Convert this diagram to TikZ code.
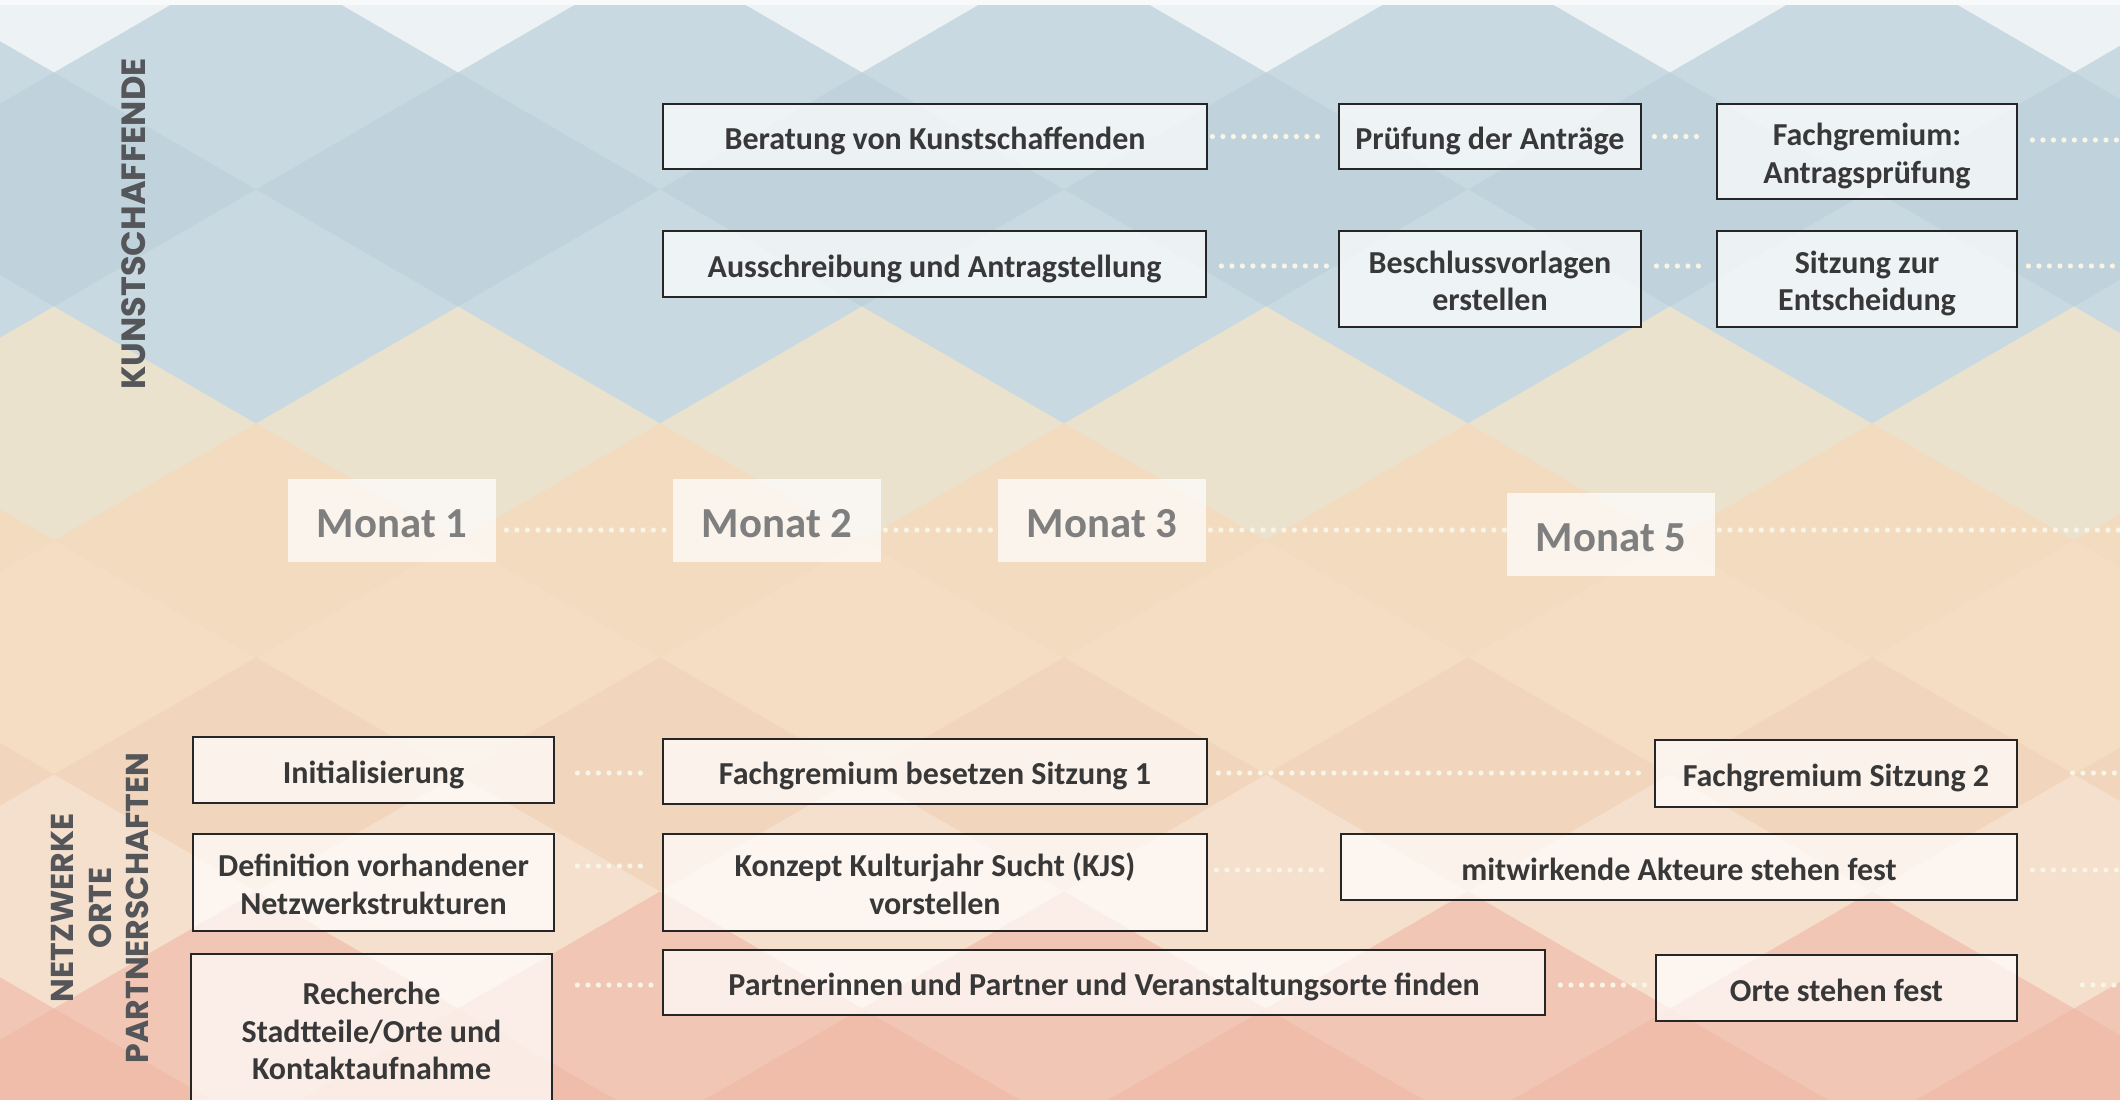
\documentclass[tikz,border=0pt]{standalone}
\usepackage{fontspec}
\setmainfont{Carlito}
\newfontfamily\labfont{Poppins}
\definecolor{c0}{HTML}{EDF2F5}
\definecolor{c1}{HTML}{C9D9E1}
\definecolor{c2}{HTML}{C0D3DC}
\definecolor{c3}{HTML}{C9D9E1}
\definecolor{c4}{HTML}{EAE2CD}
\definecolor{c5}{HTML}{F3DBC0}
\definecolor{c6}{HTML}{F4DDC2}
\definecolor{c7}{HTML}{F1D5BD}
\definecolor{c8}{HTML}{F5E0CE}
\definecolor{c9}{HTML}{F2C6B4}
\definecolor{c10}{HTML}{F0BDAA}
\definecolor{topstrip}{HTML}{F7F9FA}
\definecolor{boxline}{HTML}{262626}
\definecolor{boxtxt}{HTML}{383838}
\definecolor{montxt}{HTML}{7F7F7F}
\definecolor{labtxt}{HTML}{55565A}
\definecolor{dotc}{HTML}{F8F4E6}
\newcommand\bt{\rule{0pt}{16.6pt}}
\newcommand\bb{\rule[-3.5pt]{0pt}{3.5pt}}
\newcommand\mt{\rule{0pt}{17pt}}
\tikzset{
  tbox/.style={draw=boxline, line width=1.4pt, fill=white, fill opacity=0.7, text opacity=1,
    text=boxtxt, align=center, inner sep=0pt,
    font=\fontsize{16}{18.75}\selectfont\bfseries},
  mbox/.style={fill=white, fill opacity=0.72, text opacity=1, text=montxt, inner sep=0pt,
    minimum width=104pt, minimum height=41.5pt,
    font=\fontsize{21.4}{25}\selectfont\bfseries},
  vlab/.style={text=labtxt, inner sep=0pt, rotate=90, align=center},
  dotline/.style={draw=dotc, line width=2.6pt, line cap=round, dash pattern=on 0pt off 5.25pt}
}
\begin{document}
\begin{tikzpicture}[x=0.5pt,y=-0.5pt]
\useasboundingbox (0,0) rectangle (2120,1099);
\fill[topstrip] (0,0) rectangle (2120,1099);
% argyle background
\begin{scope}
\clip (0,5) rectangle (2120,1099);
\foreach \b/\col in {-1/c0,0/c1,1/c2,2/c3,3/c4,4/c5,5/c6,6/c7,7/c8,8/c9,9/c10}{
  \foreach \a in {-2,...,11}{
    \pgfmathtruncatemacro\pp{mod(\a+\b+40,2)}
    \ifnum\pp=1
      \fill[\col, draw=\col, line width=0.4pt] ({54+202*\a},{73+117*\b-117}) -- ++(202,117) -- ++(-202,117) -- ++(-202,-117) -- cycle;
    \fi
  }
}
\end{scope}

% side labels
\node[vlab, font=\labfont\fontsize{16.8}{18}\selectfont\bfseries] (kun) at (134,224) {KUNSTSCHAFFENDE};
\node[vlab, font=\labfont\fontsize{15.8}{18.75}\selectfont\bfseries] (netz) at (100.5,908) {NETZWERKE\\ORTE\\PARTNERSCHAFTEN};

% top boxes
\node[tbox, minimum width=272pt, minimum height=32.5pt] (ber) at (935,136.5) {\bt Beratung von Kunstschaffenden\bb};
\node[tbox, minimum width=271.5pt, minimum height=33pt] (aus) at (934.5,264) {\bt Ausschreibung und Antragstellung\bb};
\node[tbox, minimum width=151pt, minimum height=32.5pt] (pruef) at (1490,136.5) {\bt Prüfung der Anträge\bb};
\node[tbox, minimum width=150pt, minimum height=47.5pt] (fachA) at (1867,151.5) {\bt Fachgremium:\\Antragsprüfung\bb};
\node[tbox, minimum width=151pt, minimum height=48pt] (besch) at (1490,279) {\bt Beschlussvorlagen\\erstellen\bb};
\node[tbox, minimum width=150pt, minimum height=48pt] (sitz) at (1867,279) {\bt Sitzung zur\\Entscheidung\bb};

% month boxes
\node[mbox] (m1) at (392,520.5) {\mt Monat 1};
\node[mbox] (m2) at (777,520.5) {\mt Monat 2};
\node[mbox] (m3) at (1102,520.5) {\mt Monat 3};
\node[mbox] (m5) at (1611,534.5) {\mt Monat 5};

% bottom boxes
\node[tbox, minimum width=180.5pt, minimum height=33pt] (ini) at (373.5,770) {\bt Initialisierung\bb};
\node[tbox, minimum width=180.5pt, minimum height=48.5pt] (defi) at (373.5,882.5) {\bt Definition vorhandener\\Netzwerkstrukturen\bb};
\node[tbox, minimum width=180.5pt, minimum height=75pt] (rech) at (371.5,1029) {\bt Recherche\\Stadtteile/Orte und\\Kontaktaufnahme\bb};
\node[tbox, minimum width=272pt, minimum height=32.5pt] (fb1) at (935,771.5) {\bt Fachgremium besetzen Sitzung 1\bb};
\node[tbox, minimum width=272pt, minimum height=48.5pt] (konz) at (935,882.5) {\bt Konzept Kulturjahr Sucht (KJS)\\vorstellen\bb};
\node[tbox, minimum width=441pt, minimum height=32.5pt] (partn) at (1104,982.5) {\bt Partnerinnen und Partner und Veranstaltungsorte finden\bb};
\node[tbox, minimum width=181pt, minimum height=33.5pt] (fs2) at (1836,773.5) {\bt Fachgremium Sitzung 2\bb};
\node[tbox, minimum width=338pt, minimum height=33pt] (mitw) at (1679,867) {\bt mitwirkende Akteure stehen fest\bb};
\node[tbox, minimum width=180.5pt, minimum height=33pt] (orte) at (1836.5,988) {\bt Orte stehen fest\bb};

% free ends at the right edge
\coordinate (e1) at (2122,140);
\coordinate (e2) at (2122,266);
\coordinate (e3) at (2122,530);
\coordinate (e4) at (2122,773);
\coordinate (e5) at (2122,870);
\coordinate (e6) at (2122,985);
\coordinate (ym) at (0,530);

% connectors (dotted)
\draw[dotline, shorten <=2pt, shorten >=6pt] (ber.east) -- (pruef.west);
\draw[dotline, shorten <=6pt, shorten >=5pt] (pruef.east) -- (pruef.east -| fachA.west);
\draw[dotline, shorten <=7pt] (fachA.east |- e1) -- (e1);
\draw[dotline, shorten <=7pt, shorten >=5pt] (aus.east |- e2) -- (aus.east |- e2 -| besch.west);
\draw[dotline, shorten <=7pt, shorten >=6pt] (besch.east |- e2) -- (besch.east |- e2 -| sitz.west);
\draw[dotline, shorten <=5pt] (sitz.east |- e2) -- (e2);
\draw[dotline, shorten <=5pt, shorten >=2pt] (m1.east |- ym) -- (m1.east |- ym -| m2.west);
\draw[dotline, shorten <=2pt, shorten >=2pt] (m2.east |- ym) -- (m2.east |- ym -| m3.west);
\draw[dotline, shorten <=2pt, shorten >=1pt] (m3.east |- ym) -- (m3.east |- ym -| m5.west);
\draw[dotline, shorten <=2pt] (m5.east |- ym) -- (e3);
\draw[dotline, shorten <=11pt, shorten >=7pt] (ini.east |- e4) -- (ini.east |- e4 -| fb1.west);
\draw[dotline, shorten <=5pt, shorten >=5pt] (fb1.east |- e4) -- (fb1.east |- e4 -| fs2.west);
\draw[dotline, shorten <=27pt] (fs2.east |- e4) -- (e4);
\draw[dotline, shorten <=11pt, shorten >=7pt] (defi.east |- 0,866) -- (defi.east |- 0,866 -| konz.west);
\draw[dotline, shorten <=4pt, shorten >=7pt] (konz.east |- e5) -- (konz.east |- e5 -| mitw.west);
\draw[dotline, shorten <=7pt] (mitw.east |- e5) -- (e5);
\draw[dotline, shorten <=12pt, shorten >=3pt] (rech.east |- e6) -- (rech.east |- e6 -| partn.west);
\draw[dotline, shorten <=7pt, shorten >=2pt] (partn.east |- e6) -- (partn.east |- e6 -| orte.west);
\draw[dotline, shorten <=32pt] (orte.east |- e6) -- (e6);
\end{tikzpicture}
\end{document}
